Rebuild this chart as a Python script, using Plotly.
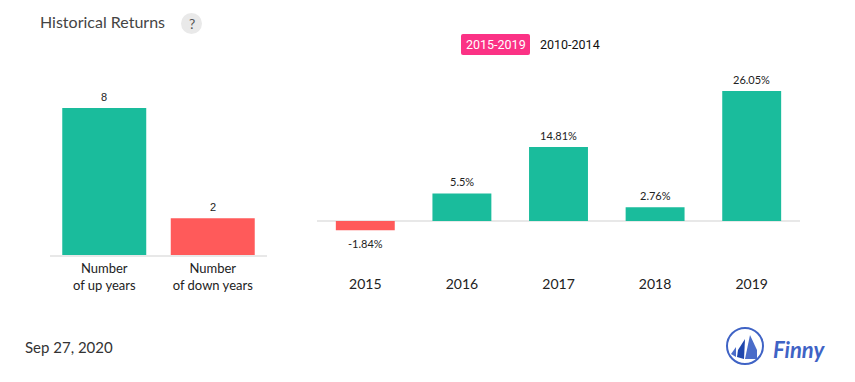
import plotly.graph_objects as go

W, H = 855, 382
PAGE_MARGIN = 8  # default body margin of the written page
GREEN = "#1abc9c"
RED = "#ff5a5a"
GREY = "#e8e8e8"
FONT = "Lato"

count_labels = ["Number<br>of up years", "Number<br>of down years"]
count_values = [8, 2]
year_labels = ["2015", "2016", "2017", "2018", "2019"]
year_values = [-1.84, 5.5, 14.81, 2.76, 26.05]
year_text = ["-1.84%", "5.5%", "14.81%", "2.76%", "26.05%"]


def px(x):
    return (x - PAGE_MARGIN) / W


def py(y):
    return 1 - (y - PAGE_MARGIN) / H


def path(points, close=True):
    d = "M " + " L ".join(f"{px(x):.5f},{py(y):.5f}" for x, y in points)
    return d + (" Z" if close else "")


fig = go.Figure()
fig.add_trace(go.Bar(
    x=count_labels, y=count_values, xaxis="x", yaxis="y", width=0.774,
    marker=dict(color=[GREEN, RED], line_width=0),
    hoverinfo="skip", showlegend=False,
))
fig.add_trace(go.Bar(
    x=year_labels, y=year_values, xaxis="x2", yaxis="y2", width=0.61,
    marker=dict(color=[GREEN if v >= 0 else RED for v in year_values], line_width=0),
    hoverinfo="skip", showlegend=False,
))

shapes = [
    dict(type="circle", xref="paper", yref="paper", x0=px(181), x1=px(202), y0=py(34), y1=py(13),
         fillcolor="#e9e9e9", line_width=0),
    dict(type="path", xref="paper", yref="paper", fillcolor="#fb3285", line_width=0,
         path=(f"M {px(463):.5f},{py(34):.5f} L {px(528):.5f},{py(34):.5f} "
               f"Q {px(530):.5f},{py(34):.5f} {px(530):.5f},{py(36):.5f} "
               f"L {px(530):.5f},{py(53):.5f} Q {px(530):.5f},{py(55):.5f} {px(528):.5f},{py(55):.5f} "
               f"L {px(463):.5f},{py(55):.5f} Q {px(461):.5f},{py(55):.5f} {px(461):.5f},{py(53):.5f} "
               f"L {px(461):.5f},{py(36):.5f} Q {px(461):.5f},{py(34):.5f} {px(463):.5f},{py(34):.5f} Z")),
    # logo ring and sails
    dict(type="circle", xref="paper", yref="paper", x0=px(727), x1=px(763), y0=py(364), y1=py(328),
         fillcolor="rgba(0,0,0,0)", line=dict(color="#3f63c5", width=2)),
    dict(type="path", xref="paper", yref="paper", fillcolor="#4a6cc9", line_width=0,
         path=path([(750, 335), (757, 350), (757, 359), (745, 359)])),
    dict(type="path", xref="paper", yref="paper", fillcolor="#1f46ad", line_width=0,
         path=path([(745, 339), (744, 359), (737, 357), (738, 350)])),
    dict(type="path", xref="paper", yref="paper", fillcolor="#4a6cc9", line_width=0,
         path=path([(736, 347), (736, 357), (731, 354)])),
]


def note(text, x, y, size, color, family=FONT, anchor="left", **kw):
    return dict(text=text, x=px(x), y=py(y), xref="paper", yref="paper", showarrow=False,
                xanchor=anchor, yanchor="middle", font=dict(family=family, size=size, color=color), **kw)


annotations = [
    note("Historical Returns", 38, 22, 16, "#444444"),
    note("?", 191.5, 23.5, 14, "#555555", anchor="center"),
    note("2015-2019", 495.5, 44.5, 12.5, "#ffffff", family="Roboto", anchor="center"),
    note("2010-2014", 570, 44.5, 12.5, "#111111", family="Roboto", anchor="center"),
    note("Sep 27, 2020", 23, 347, 15, "#333333"),
    note("<b><i>Finny</i></b>", 771, 349, 22, "#3f63c5"),
]
for i, value in enumerate(count_values):
    annotations.append(dict(x=i, y=value, xref="x", yref="y", text=str(value), showarrow=False,
                            yanchor="middle", yshift=11,
                            font=dict(family="Liberation Sans", size=11, color="#222222")))
for i, (value, text) in enumerate(zip(year_values, year_text)):
    annotations.append(dict(x=i, y=value, xref="x2", yref="y2", text=text, showarrow=False,
                            yanchor="middle", yshift=12 if value >= 0 else -13,
                            font=dict(family=FONT, size=11, color="#222222")))

left_top, left_bottom = 60, 255
left_scale = 147 / 8
right_top, right_zero, right_bottom = 60, 221, 274
right_scale = 130 / 26.05

fig.update_layout(
    width=W, height=H, margin=dict(l=0, r=0, t=0, b=0),
    paper_bgcolor="white", plot_bgcolor="white",
    font=dict(family=FONT, color="#222222"),
    shapes=shapes, annotations=annotations,
    xaxis=dict(domain=[px(50), px(267)], anchor="y", type="category", range=[-0.5, 1.5],
               showgrid=False, showline=True, linecolor=GREY, linewidth=2, ticks="",
               tickfont=dict(family=FONT, size=13, color="#222222"), fixedrange=True),
    yaxis=dict(domain=[py(left_bottom), py(left_top)], anchor="x",
               range=[0, (left_bottom - left_top) / left_scale],
               visible=False, fixedrange=True),
    xaxis2=dict(domain=[px(317), px(800)], anchor="y2", type="category", range=[-0.5, 4.5],
                showgrid=False, showline=False, ticks="",
                tickfont=dict(family=FONT, size=14, color="#222222"), fixedrange=True),
    yaxis2=dict(domain=[py(right_bottom), py(right_top)], anchor="x2",
                range=[-(right_bottom - right_zero) / right_scale, (right_zero - right_top) / right_scale],
                showgrid=False, showticklabels=False, ticks="", showline=False,
                zeroline=True, zerolinecolor=GREY, zerolinewidth=2, fixedrange=True),
)
fig.write_html("out.html", config=dict(displayModeBar=False))
